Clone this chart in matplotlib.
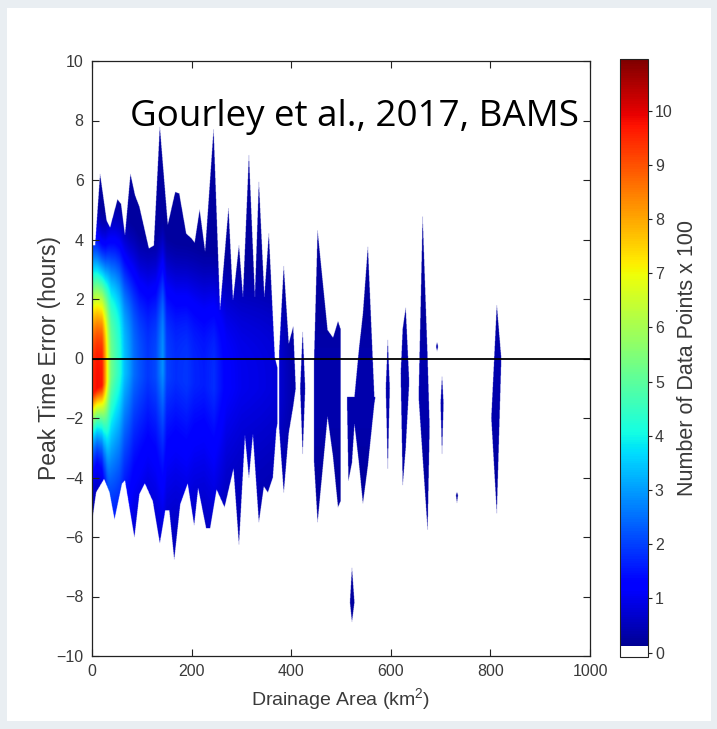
import numpy as np
import matplotlib
matplotlib.use("Agg")
import matplotlib.pyplot as plt
from matplotlib.colors import ListedColormap, Normalize
from matplotlib.cm import ScalarMappable
from matplotlib.patches import Rectangle
from matplotlib import font_manager

# ---------------- data ----------------
# Outer envelope of the main (continuous) region: drainage area (km^2) -> peak time error (h)
main_top_x = [0, 6, 16, 29, 36, 51, 58, 66, 77, 86, 95, 114, 124, 136, 152, 167, 175, 189, 199,
              206, 216, 227, 244, 257, 274, 283, 295, 303, 315, 327, 335, 346, 355, 367, 372]
main_top_y = [3.8, 3.8, 6.2, 4.65, 4.4, 5.35, 5.2, 4.15, 6.2, 5.5, 5.1, 3.7, 3.8, 7.8, 4.5, 5.6, 5.55,
              4.2, 4.05, 3.9, 5.0, 3.6, 7.7, 1.65, 5.05, 1.97, 3.8, 2.08, 6.84, 2.08, 5.94, 2.08, 4.2,
              0.05, -0.3]
main_bot_x = [0, 8, 24, 35, 45, 60, 66, 85, 95, 106, 122, 136, 147, 155, 165, 177, 192, 205, 213,
              229, 237, 250, 266, 284, 295, 307, 315, 323, 335, 345, 353, 363, 370, 372]
main_bot_y = [-5.45, -4.5, -4.05, -4.5, -5.4, -4.2, -4.1, -6.0, -4.55, -4.2, -4.8, -6.2, -5.1, -5.1,
              -6.75, -4.9, -4.2, -5.6, -4.35, -5.7, -5.7, -4.4, -5.0, -3.7, -6.25, -2.6, -4.0, -2.55,
              -5.5, -4.3, -4.5, -4.0, -2.4, -2.2]

# Isolated patches: node areas, upper edge, lower edge
patch_x = [[376, 385, 395, 404, 409],
           [418, 423, 428],
           [446, 453, 473, 484, 494, 499],
           [512, 515, 522, 527, 536, 544, 554, 567, 569],
           [518, 522, 527],
           [590, 594, 598],
           [620, 624, 630, 637],
           [656, 664, 674, 678],
           [691, 693, 695],
           [700, 703, 706],
           [731, 733, 735],
           [802, 813, 822]]
patch_top = [[0.3, 3.1, 0.5, 1.07, -1.0],
             [-1.0, 0.9, -1.0],
             [0.0, 4.3, 0.96, 0.7, 1.25, 1.0],
             [-1.3, -1.3, -1.3, -1.3, 0.3, 1.5, 3.76, -1.3, -1.3],
             [-8.2, -7.05, -8.2],
             [-1.0, 0.62, -1.0],
             [-0.5, 1.0, 1.7, -0.8],
             [-1.3, 4.77, 0.0, -2.3],
             [0.4, 0.55, 0.4],
             [-1.5, -0.6, -1.5],
             [-4.6, -4.5, -4.6],
             [-2.0, 1.8, 0.0]]
patch_bot = [[-2.4, -4.5, -2.5, -1.6, -1.0],
             [-1.0, -3.2, -1.0],
             [-3.5, -5.5, -1.96, -3.3, -5.0, -4.8],
             [-1.3, -4.1, -3.5, -2.2, -3.5, -4.87, -3.6, -1.5, -1.3],
             [-8.2, -8.85, -8.2],
             [-1.0, -3.7, -1.0],
             [-0.5, -4.25, -3.0, -0.8],
             [-1.3, -3.3, -5.76, -2.3],
             [0.4, 0.25, 0.4],
             [-1.5, -3.2, -1.5],
             [-4.6, -4.85, -4.6],
             [-2.0, -5.2, 0.0]]

# Column density profile (Number of Data Points x 100)
col_x      = [0, 10, 20, 27, 32, 38, 46, 55, 65, 75, 84, 96, 112, 128, 142, 150, 168, 190, 205, 225, 245, 270, 300, 340, 372, 400, 1000]
col_peak   = [9.5, 9.8, 9.7, 8.0, 6.6, 5.3, 4.8, 4.3, 3.4, 3.0, 2.5, 2.2, 1.9, 2.1, 2.9, 2.0, 1.8, 1.9, 1.7, 1.6, 1.8, 1.2, 1.0, 0.9, 0.8, 0.4, 0.4]
col_center = [-1.2, -1.0, -0.9, -0.8, -0.7, -0.6, -0.5, -0.5, -0.5, -0.5, -0.5, -0.6, -0.6, -0.6, -0.4, -0.6, -0.7, -0.8, -0.8, -0.9, -1.0, -1.0, -1.0, -1.0, -1.0, -1.5, -1.5]
col_up     = [3.4, 3.2, 3.0, 3.0, 3.1, 3.2, 3.2, 3.2, 3.1, 3.0, 3.0, 2.9, 2.9, 2.9, 3.0, 2.9, 2.9, 2.9, 2.9, 2.9, 2.9, 2.9, 2.9, 2.9, 2.9, 2.9, 2.9]
col_down   = [0.85, 0.8, 0.9, 1.3, 1.8, 2.3, 2.5, 2.6, 2.6, 2.6, 2.6, 2.6, 2.6, 2.6, 2.5, 2.6, 2.6, 2.6, 2.6, 2.6, 2.6, 2.6, 2.6, 2.6, 2.6, 2.6, 2.6]
edge_level = 0.25

x_ticks = [0, 200, 400, 600, 800, 1000]
y_ticks = [-10, -8, -6, -4, -2, 0, 2, 4, 6, 8, 10]
cbar_ticks = [0, 1, 2, 3, 4, 5, 6, 7, 8, 9, 10]
cbar_min, cbar_max, white_below = -0.08, 10.95, 0.12

# ---------------- fonts ----------------
avail = {f.name for f in font_manager.fontManager.ttflist}
narrow = "Liberation Sans Narrow" if "Liberation Sans Narrow" in avail else "Liberation Sans"
plt.rcParams["font.family"] = [narrow, "DejaVu Sans"]
plt.rcParams["mathtext.fontset"] = "custom"
plt.rcParams["mathtext.rm"] = narrow
plt.rcParams["mathtext.it"] = narrow
title_font = "Open Sans" if "Open Sans" in avail else "DejaVu Sans"

# ---------------- build density grid ----------------
xs = np.linspace(0, 1000, 2001)
ys = np.linspace(-10, 10, 1201)
X, Y = np.meshgrid(xs, ys)
inside = np.zeros(X.shape, dtype=bool)

m = (xs >= main_top_x[0]) & (xs <= main_top_x[-1])
t = np.interp(xs[m], main_top_x, main_top_y)
b = np.interp(xs[m], main_bot_x, main_bot_y)
inside[:, m] |= (Y[:, m] <= t) & (Y[:, m] >= b)
for px, pt, pb in zip(patch_x, patch_top, patch_bot):
    m = (xs >= px[0]) & (xs <= px[-1])
    t = np.interp(xs[m], px, pt)
    b = np.interp(xs[m], px, pb)
    inside[:, m] |= (Y[:, m] <= t) & (Y[:, m] >= b)

P = np.interp(xs, col_x, col_peak)[None, :]
C = np.interp(xs, col_x, col_center)[None, :]
SU = np.interp(xs, col_x, col_up)[None, :]
SD = np.interp(xs, col_x, col_down)[None, :]
dy = Y - C
prof = np.where(dy >= 0, np.exp(-0.5 * (dy / SU) ** 3), np.exp(-0.5 * (np.abs(dy) / SD) ** 1.2))
Z = np.where(inside, np.maximum(edge_level, P * prof), 0.0)

# colormap: jet with white bottom slot
N = 1100
vals = np.linspace(cbar_min, cbar_max, N)
cols = plt.get_cmap("jet")(np.linspace(0, 1, N))
cols[vals < white_below] = [1, 1, 1, 1]
cmap = ListedColormap(cols)
norm = Normalize(cbar_min, cbar_max)

# ---------------- figure ----------------
W, H = 717, 729
fig = plt.figure(figsize=(W / 100, H / 100), dpi=100)
fig.patch.set_facecolor("#e9eef2")
fig.add_artist(Rectangle((7 / W, 8 / H), (711 - 7) / W, (721 - 8) / H, transform=fig.transFigure,
                         facecolor="white", edgecolor="none", zorder=-5))

ax = fig.add_axes([92 / W, 1 - 656 / H, (590 - 92) / W, (656 - 61) / H])
ax.imshow(Z, extent=[0, 1000, -10, 10], origin="lower", aspect="auto", cmap=cmap, norm=norm,
          interpolation="antialiased", interpolation_stage="rgba")
ax.axhline(0, color="black", lw=1.3, zorder=3)
ax.set_xlim(0, 1000)
ax.set_ylim(-10, 10)
ax.set_xticks(x_ticks)
ax.set_yticks(y_ticks)
ax.tick_params(direction="in", top=True, right=True, length=5, width=0.8, color="#222222",
               labelcolor="#3a3a3a", labelsize=11.5, pad=6)
for s in ax.spines.values():
    s.set_color("#222222")
    s.set_linewidth(0.9)
ax.set_xlabel("Drainage Area (km$^2$)", fontsize=14, color="#3a3a3a", labelpad=5)
ax.set_ylabel("Peak Time Error (hours)", fontsize=16.5, color="#3a3a3a", labelpad=-3)
ax.text((130 - 92) / 498, 1 - (126 - 61) / 595, "Gourley et al., 2017, BAMS", transform=ax.transAxes,
        family=title_font, fontsize=26.5, color="black", va="baseline", ha="left", zorder=5)

cax = fig.add_axes([620 / W, 1 - 657 / H, 28 / W, 598 / H])
cb = fig.colorbar(ScalarMappable(norm=norm, cmap=cmap), cax=cax)
cb.set_ticks(cbar_ticks)
cax.tick_params(direction="out", length=3, width=0.8, color="#222222", labelcolor="#3a3a3a",
                labelsize=11.5, pad=2)
cb.outline.set_edgecolor("#222222")
cb.outline.set_linewidth(0.8)
cb.set_label("Number of Data Points x 100", fontsize=15.5, color="#3a3a3a", labelpad=3)

fig.savefig("out.png", dpi=100, facecolor=fig.get_facecolor())
